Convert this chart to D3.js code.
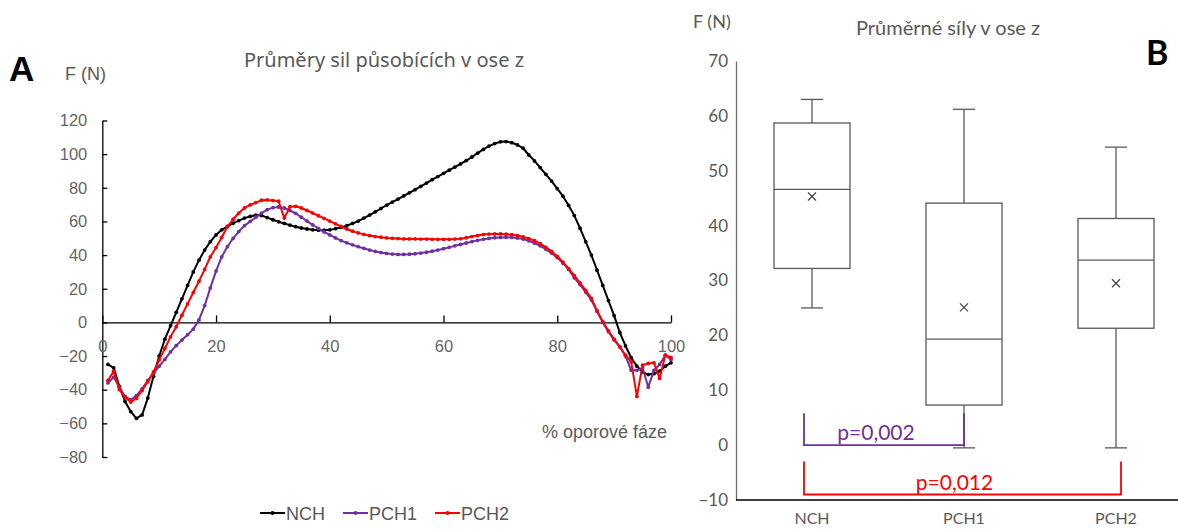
<!DOCTYPE html>
<html>
<head>
<meta charset="utf-8">
<script src="https://cdn.jsdelivr.net/npm/d3@7"></script>
<style>
  body { margin: 0; background: #fff; }
  svg { display: block; }
</style>
</head>
<body>
<svg id="chart"></svg>
<script>
let w = 1178;
let h = 529;

// ---- panel A data: mean force curves, 1..100 % of stance phase
const phase = d3.range(1, 101);
const nch = [-25, -27, -38, -47, -53, -57, -55, -45, -32, -20,
  -10, -2, 6, 14, 22, 30, 37, 43, 48, 52,
  55, 57, 59, 60.5, 62, 63, 63.8, 63.5, 62.3, 61,
  59.8, 58.8, 57.8, 56.9, 56.1, 55.5, 55, 54.8, 54.8, 55,
  55.7, 56.5, 57.5, 58.8, 60.2, 62, 63.8, 65.7, 67.7, 69.7,
  71.5, 73.3, 75.2, 77, 78.9, 80.8, 82.8, 84.8, 86.7, 88.6,
  90.5, 92.3, 94.2, 96.2, 98.3, 100.6, 102.8, 104.8, 106.3, 107.3,
  107.5, 106.8, 105.5, 103.5, 99.5, 96, 92, 88, 84, 79.5,
  75, 69.5, 63.5, 56, 48, 40, 31, 22, 13, 4,
  -6, -14, -21, -26, -29.5, -31, -30.5, -29, -26, -24];
const pch1 = [-36, -32.5, -38.5, -44, -46, -43.5, -39.5, -34.5, -30.5, -26,
  -22, -17.5, -13.8, -10.5, -7.3, -4, 1.5, 10, 20.5, 30.5,
  39, 45, 50, 54, 57.5, 60, 62.5, 65, 67, 68.2,
  68.6, 68, 66.5, 64.8, 62.5, 60.2, 58, 55.8, 53.8, 52,
  50.2, 48.6, 47.3, 46.1, 45, 44, 43, 42.2, 41.5, 41,
  40.6, 40.4, 40.4, 40.5, 40.8, 41.2, 41.7, 42.3, 43, 43.8,
  44.6, 45.5, 46.3, 47.2, 48, 48.8, 49.4, 49.9, 50.3, 50.5,
  50.6, 50.5, 50.1, 49.5, 48.5, 47.2, 45.5, 43.5, 41.2, 38.5,
  35.2, 31.5, 26.5, 22.5, 18, 13.3, 6.5, 0, -5.5, -10.5,
  -14.5, -20, -28.5, -28.5, -27, -38.5, -28.5, -25, -19.5, -22];
const pch2 = [-34.5, -29, -40, -44.5, -47.3, -45.2, -40.5, -35.3, -29.4, -22.4,
  -15.5, -8.6, -2.6, 4.3, 11, 17.8, 24.5, 31.5, 39, 44.5,
  50.5, 57, 61.3, 65, 68, 69.8, 71.2, 72.6, 72.8, 72.4,
  72, 62, 68.8, 69, 68, 66.5, 65, 63.4, 61.8, 60.2,
  58.6, 57, 55.5, 54.2, 53.2, 52.3, 51.6, 51, 50.6, 50.2,
  50, 49.8, 49.6, 49.6, 49.6, 49.5, 49.5, 49.4, 49.4, 49.4,
  49.4, 49.5, 49.7, 50.3, 51, 51.6, 52.2, 52.5, 52.6, 52.6,
  52.4, 52.1, 51.6, 50.8, 49.8, 48.6, 46.8, 44.6, 42.2, 39.3,
  35.8, 32, 27.8, 23.5, 19, 14.3, 7, 0.5, -5, -10,
  -14.5, -19.5, -23.5, -44, -25.4, -24.4, -24, -33.3, -19.5, -20.8];
const seriesNames = ['NCH', 'PCH1', 'PCH2'];
const seriesColors = ['#000000', '#7030A0', '#FF0000'];
const yTicksA = [-80, -60, -40, -20, 0, 20, 40, 60, 80, 100, 120];
const xTicksA = [0, 20, 40, 60, 80, 100];

// ---- panel B data: box plots
const groups = ['NCH', 'PCH1', 'PCH2'];
const whiskerMin = [25, -0.5, -0.5];
const q1 = [32.2, 7.3, 21.3];
const median = [46.6, 19.3, 33.7];
const q3 = [58.7, 44.1, 41.3];
const whiskerMax = [63, 61.2, 54.3];
const mean = [45.3, 25.1, 29.5];
const yTicksB = [-10, 0, 10, 20, 30, 40, 50, 60, 70];
const sigFrom = ['NCH', 'NCH'];
const sigTo = ['PCH1', 'PCH2'];
const sigTop = [5.8, -3];
const sigBase = [0, -9];
const sigText = ['p=0,002', 'p=0,012'];
const sigColors = ['#7030A0', '#FF0000'];

const gray = '#595959';

function createGraph() {
  const chart = d3.select('#chart')
    .attr('width', w)
    .attr('height', h);

  // ================= panel A =================
  const x = d3.scaleLinear().domain([0, 100]).range([102.3, 671]);
  const y = d3.scaleLinear().domain([-80, 120]).range([457, 120.5]);

  const gA = chart.append('g');

  const yAxis = d3.axisLeft(y).tickValues(yTicksA).tickSize(-5).tickSizeOuter(0).tickPadding(15);
  const ya = gA.append('g').attr('transform', `translate(${x(0)},0)`).call(yAxis);
  ya.selectAll('path,line').attr('stroke', '#000').attr('stroke-width', 1.3);
  ya.selectAll('text').attr('fill', '#666').style('font', '16.5px "Liberation Sans", Arial, sans-serif');

  const xAxis = d3.axisBottom(x).tickValues(xTicksA).tickSize(-7).tickSizeOuter(0).tickPadding(18);
  const xa = gA.append('g').attr('transform', `translate(0,${y(0)})`).call(xAxis);
  xa.selectAll('path,line').attr('stroke', '#000').attr('stroke-width', 1.3);
  xa.selectAll('text').attr('fill', '#666').style('font', '16.5px "Liberation Sans", Arial, sans-serif');

  const all = [nch, pch1, pch2];
  const line = d3.line().x((d, i) => x(phase[i])).y(d => y(d));

  all.forEach((s, k) => {
    gA.append('path')
      .datum(s)
      .attr('d', line)
      .attr('fill', 'none')
      .attr('stroke', seriesColors[k])
      .attr('stroke-width', 2)
      .attr('stroke-linejoin', 'round');
    gA.append('g').selectAll('circle')
      .data(s)
      .enter()
      .append('circle')
      .attr('cx', (d, i) => x(phase[i]))
      .attr('cy', d => y(d))
      .attr('r', 1.9)
      .attr('fill', seriesColors[k]);
  });

  gA.append('text')
    .attr('x', 384).attr('y', 67)
    .attr('text-anchor', 'middle')
    .attr('fill', gray)
    .style('font', '20px "Noto Sans", sans-serif')
    .text('Průměry sil působících v ose z');

  gA.append('text')
    .attr('x', 65).attr('y', 80)
    .attr('fill', gray)
    .style('font', '18px "Liberation Sans", Arial, sans-serif')
    .text('F (N)');

  gA.append('text')
    .attr('x', 9).attr('y', 81)
    .attr('fill', '#000')
    .style('font', 'bold 35px "Liberation Sans", Arial, sans-serif')
    .text('A');

  gA.append('text')
    .attr('x', 667).attr('y', 438)
    .attr('text-anchor', 'end')
    .attr('fill', gray)
    .style('font', '18px "Liberation Sans", Arial, sans-serif')
    .text('% oporové fáze');

  // legend
  const legX = [260, 343, 435];
  const leg = gA.append('g').selectAll('g')
    .data(seriesNames)
    .enter()
    .append('g')
    .attr('transform', (d, i) => `translate(${legX[i]},513)`);
  leg.append('line')
    .attr('x1', 0).attr('x2', 25)
    .attr('stroke', (d, i) => seriesColors[i])
    .attr('stroke-width', 2);
  leg.append('circle')
    .attr('cx', 12.5).attr('r', 2)
    .attr('fill', (d, i) => seriesColors[i]);
  leg.append('text')
    .attr('x', 26).attr('y', 6.5)
    .attr('fill', gray)
    .style('font', '18px "Liberation Sans", Arial, sans-serif')
    .text(d => d);

  // ================= panel B =================
  const xB = d3.scaleBand().domain(groups).range([736, 1192]);
  const yB = d3.scaleLinear().domain([-10, 70]).range([500, 61]);
  const gB = chart.append('g');
  const bw = xB.bandwidth() / 2;
  const cx = g => xB(g) + xB.bandwidth() / 2;

  const yAxisB = d3.axisLeft(yB).tickValues(yTicksB).tickSize(0).tickPadding(8);
  const yb = gB.append('g').attr('transform', `translate(736,0)`).call(yAxisB);
  yb.select('path').attr('stroke', '#6e6e6e').attr('stroke-width', 1.3);
  yb.selectAll('text').attr('fill', gray).style('font', '17px Lato, sans-serif');

  gB.append('line')
    .attr('x1', 736).attr('x2', 1192)
    .attr('y1', yB(-10)).attr('y2', yB(-10))
    .attr('stroke', '#000').attr('stroke-width', 1.3);

  gB.append('g').selectAll('text')
    .data(groups)
    .enter()
    .append('text')
    .attr('x', d => cx(d))
    .attr('y', 524)
    .attr('text-anchor', 'middle')
    .attr('fill', gray)
    .style('font', '16px Lato, sans-serif')
    .text(d => d);

  const boxes = gB.append('g').selectAll('g')
    .data(groups)
    .enter()
    .append('g')
    .attr('stroke', gray)
    .attr('stroke-width', 1.3)
    .attr('fill', 'none');

  // whiskers
  boxes.append('line')
    .attr('x1', d => cx(d)).attr('x2', d => cx(d))
    .attr('y1', (d, i) => yB(whiskerMax[i])).attr('y2', (d, i) => yB(q3[i]));
  boxes.append('line')
    .attr('x1', d => cx(d)).attr('x2', d => cx(d))
    .attr('y1', (d, i) => yB(q1[i])).attr('y2', (d, i) => yB(whiskerMin[i]));
  boxes.append('line')
    .attr('x1', d => cx(d) - 11).attr('x2', d => cx(d) + 11)
    .attr('y1', (d, i) => yB(whiskerMax[i])).attr('y2', (d, i) => yB(whiskerMax[i]));
  boxes.append('line')
    .attr('x1', d => cx(d) - 11).attr('x2', d => cx(d) + 11)
    .attr('y1', (d, i) => yB(whiskerMin[i])).attr('y2', (d, i) => yB(whiskerMin[i]));
  // box
  boxes.append('rect')
    .attr('x', d => cx(d) - bw / 2)
    .attr('width', bw)
    .attr('y', (d, i) => yB(q3[i]))
    .attr('height', (d, i) => yB(q1[i]) - yB(q3[i]))
    .attr('fill', '#fff');
  boxes.append('line')
    .attr('x1', d => cx(d) - bw / 2).attr('x2', d => cx(d) + bw / 2)
    .attr('y1', (d, i) => yB(median[i])).attr('y2', (d, i) => yB(median[i]));
  // mean marker
  boxes.append('path')
    .attr('transform', (d, i) => `translate(${cx(d)},${yB(mean[i])})`)
    .attr('d', 'M-4,-4L4,4M-4,4L4,-4')
    .attr('stroke', '#404040')
    .attr('stroke-width', 1.2);

  // significance brackets
  sigText.forEach((t, i) => {
    const x1 = cx(sigFrom[i]) - 8;
    const x2 = cx(sigTo[i]) + (i === 0 ? 0 : 5);
    gB.append('path')
      .attr('d', `M${x1},${yB(sigTop[i])}V${yB(sigBase[i])}H${x2}V${yB(sigTop[i])}`)
      .attr('fill', 'none')
      .attr('stroke', sigColors[i])
      .attr('stroke-width', 1.8);
    gB.append('text')
      .attr('x', (x1 + x2) / 2 - 8)
      .attr('y', yB(sigBase[i]) - 5)
      .attr('text-anchor', 'middle')
      .attr('fill', sigColors[i])
      .style('font', '21px Lato, sans-serif')
      .text(t);
  });

  gB.append('text')
    .attr('x', 948).attr('y', 35)
    .attr('text-anchor', 'middle')
    .attr('fill', gray)
    .style('font', '20px Lato, sans-serif')
    .text('Průměrné síly v ose z');

  gB.append('text')
    .attr('x', 693).attr('y', 28)
    .attr('fill', gray)
    .style('font', '18px Lato, sans-serif')
    .text('F (N)');

  gB.append('text')
    .attr('x', 1146).attr('y', 65)
    .attr('fill', '#000')
    .style('font', 'bold 34px Lato, sans-serif')
    .text('B');
}

createGraph();
</script>
</body>
</html>
